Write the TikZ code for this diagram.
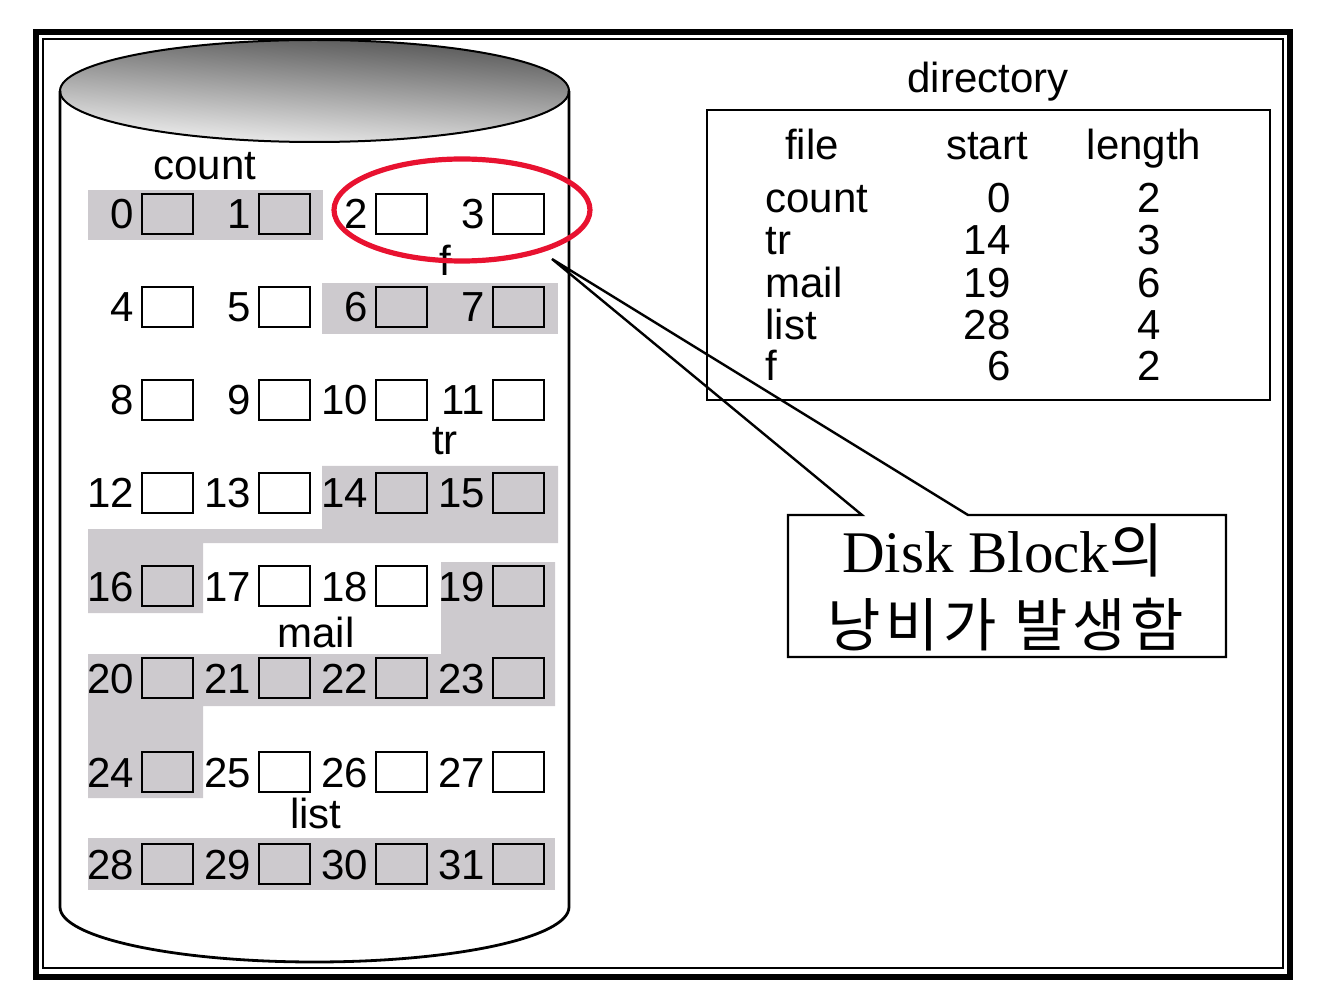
\documentclass[tikz,border=0pt]{standalone}
\usepackage{fontspec}
\setmainfont{Liberation Sans}
\newfontfamily\tms{Liberation Serif}
\newfontfamily\kr{Noto Sans CJK KR}
\newfontfamily\krw[LetterSpace=8]{Noto Sans CJK KR}
\definecolor{blkgray}{RGB}{205,202,206}
\definecolor{circred}{RGB}{232,18,48}
\begin{document}
\begin{tikzpicture}[x=0.5pt,y=-0.5pt,
  blk/.style={draw, line width=1.3pt, minimum width=25.5pt, minimum height=20pt, inner sep=0pt},
  num/.style={font=\fontsize{21}{25}\selectfont, inner sep=0pt, anchor=base east},
  lbl/.style={font=\fontsize{21}{25}\selectfont, inner sep=0pt, anchor=base},
  lblw/.style={font=\fontsize{21}{25}\selectfont, inner sep=0pt, anchor=base west},
  area/.style={fill=blkgray, draw=none},
  outline/.style={line width=1.4pt}]
\useasboundingbox (0,0) rectangle (1340,1000);
% frame
\draw[line width=3pt] (36,32) rectangle (1290,976.5);
\draw[line width=1pt] (43,39) rectangle (1283,968);
% cylinder
\shade[top color=black!68, bottom color=black!4, shading angle=-4] (314.5,91) ellipse[x radius=254.5, y radius=51];
\draw[line width=1pt] (314.5,91) ellipse[x radius=254.5, y radius=51];
\draw[outline] (60,91) -- (60,907) arc[start angle=180, end angle=0, x radius=254.5, y radius=55] -- (569,91);
% allocated areas
\fill[area] (88,190) rectangle (323,240);
\fill[area] (322,283) rectangle (558,334);
\fill[area] (322,466) -- (558,466) -- (558,543) -- (203,543) -- (203,613) -- (88,613) -- (88,529) -- (322,529) -- cycle;
\fill[area] (441,562) -- (555,562) -- (555,706) -- (203,706) -- (203,798) -- (88,798) -- (88,654) -- (441,654) -- cycle;
\fill[area] (88,838) rectangle (555,890);
% blocks
\foreach \r/\yy in {0/214,1/307,2/400,3/493,4/586,5/678,6/772,7/864}{
  \foreach \c/\xx in {0/167.5,1/284.5,2/401.5,3/518.5}{
    \pgfmathtruncatemacro\n{4*\r+\c}
    \node[blk] (b\n) at (\xx,\yy) {};
    \node[num] (l\n) at (\xx-33,\yy+15) {\n};
  }
}
% file labels
\node[lbl] (lcount) at (205,180) {count};
\node[lbl] (lf) at (445,276) {f};
\node[lbl] (ltr) at (445,455) {tr};
\node[lbl] (lmail) at (316,647) {mail};
\node[lbl] (llist) at (316,828) {list};
% red ellipse
\draw[circred, line width=2.6pt] (462,210) ellipse[x radius=128, y radius=51];
% directory
\node[lbl] (dir) at (988,93) {directory};
\draw[outline] (707,110) rectangle (1270,400);
\node[lbl] (hfile) at (812,160) {file};
\node[lbl] (hstart) at (987,160) {start};
\node[lbl] (hlen) at (1144,160) {length};
\foreach \nm/\st/\ln/\yy [count=\i] in {count/0/2/213, tr/14/3/255, mail/19/6/298, list/28/4/340, f/6/2/381}{
  \node[lblw] (fn\i) at (765,\yy) {\nm};
  \node[num] (fs\i) at (1011,\yy) {\st};
  \node[num] (fl\i) at (1161,\yy) {\ln};
}
% callout
\coordinate (apex) at (552,259);
\draw[line width=1.2pt, line join=miter] (862,515) -- (788,515) -- (788,657) -- (1226,657) -- (1226,515) -- (968,515) -- (apex) -- cycle;
\node[font=\tms\fontsize{29.5}{34}\selectfont, inner sep=0pt, anchor=base] (t1) at (1003,572) {Disk Block{\kr 의}};
\node[font=\krw\fontsize{29}{34}\selectfont, inner sep=0pt] (t2) at (1006,625) {낭비가 발생함};
\end{tikzpicture}
\end{document}
